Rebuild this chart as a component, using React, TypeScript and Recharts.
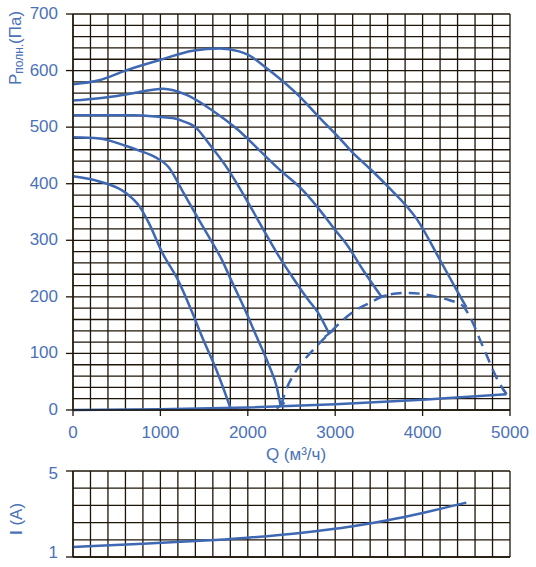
import React from "react";
import { LineChart, Line, XAxis, YAxis, CartesianGrid } from "recharts";

// fan curves, Q (m3/h) vs total pressure (Pa)
const curve1 = [
  { q: 0, p: 576 }, { q: 300, p: 583 }, { q: 600, p: 600 }, { q: 1000, p: 619 },
  { q: 1370, p: 635 }, { q: 1680, p: 639 }, { q: 1900, p: 634 }, { q: 2000, p: 628 },
  { q: 2250, p: 600 }, { q: 2600, p: 553 }, { q: 2800, p: 520 }, { q: 3040, p: 482 },
  { q: 3200, p: 455 }, { q: 3400, p: 426 }, { q: 3590, p: 397 }, { q: 3940, p: 336 },
  { q: 4200, p: 265 }, { q: 4390, p: 212 }, { q: 4500, p: 182 },
];
const curve2 = [
  { q: 0, p: 547 }, { q: 300, p: 551 }, { q: 690, p: 560 }, { q: 1030, p: 568 },
  { q: 1300, p: 557 }, { q: 1590, p: 530 }, { q: 1890, p: 495 }, { q: 2140, p: 458 },
  { q: 2370, p: 424 }, { q: 2600, p: 393 }, { q: 2790, p: 360 }, { q: 3000, p: 318 },
  { q: 3130, p: 293 }, { q: 3320, p: 247 }, { q: 3530, p: 200 },
];
const curve3 = [
  { q: 0, p: 521 }, { q: 700, p: 521 }, { q: 1000, p: 518 }, { q: 1140, p: 516 },
  { q: 1250, p: 511 }, { q: 1400, p: 500 }, { q: 1555, p: 471 }, { q: 1745, p: 432 },
  { q: 1900, p: 394 }, { q: 2050, p: 354 }, { q: 2200, p: 313 }, { q: 2355, p: 272 },
  { q: 2510, p: 235 }, { q: 2680, p: 197 }, { q: 2800, p: 173 }, { q: 2930, p: 135 },
];
const curve4 = [
  { q: 0, p: 482 }, { q: 300, p: 480 }, { q: 600, p: 467 }, { q: 750, p: 459 },
  { q: 940, p: 447 }, { q: 1095, p: 429 }, { q: 1250, p: 388 }, { q: 1400, p: 347 },
  { q: 1555, p: 306 }, { q: 1705, p: 265 }, { q: 1820, p: 226 }, { q: 1960, p: 180 },
  { q: 2100, p: 130 }, { q: 2250, p: 76 }, { q: 2330, p: 41 }, { q: 2375, p: 8 },
];
const curve5 = [
  { q: 0, p: 413 }, { q: 300, p: 404 }, { q: 610, p: 383 }, { q: 760, p: 360 },
  { q: 860, p: 333 }, { q: 1025, p: 277 }, { q: 1200, p: 230 }, { q: 1360, p: 174 },
  { q: 1480, p: 128 }, { q: 1640, p: 71 }, { q: 1800, p: 4 },
];
const sysLine = [
  { q: 0, p: 0 }, { q: 1000, p: 1.5 }, { q: 2000, p: 4.5 }, { q: 3000, p: 10 },
  { q: 4000, p: 18 }, { q: 4960, p: 28 },
];
const boundary = [
  { q: 2380, p: 8 }, { q: 2430, p: 32 }, { q: 2560, p: 71 }, { q: 2710, p: 100 },
  { q: 2820, p: 118 }, { q: 2930, p: 135 }, { q: 3090, p: 159 }, { q: 3240, p: 177 },
  { q: 3390, p: 189 }, { q: 3530, p: 200 }, { q: 3700, p: 206 }, { q: 3850, p: 207 },
  { q: 4000, p: 205 }, { q: 4160, p: 200 }, { q: 4310, p: 194 }, { q: 4460, p: 184 },
  { q: 4540, p: 165 }, { q: 4690, p: 112 }, { q: 4880, p: 47 }, { q: 4960, p: 28 },
];
// current draw, A
const current = [
  { q: 0, i: 1.47 }, { q: 800, i: 1.62 }, { q: 1400, i: 1.74 }, { q: 2000, i: 1.9 },
  { q: 2600, i: 2.12 }, { q: 3200, i: 2.43 }, { q: 3600, i: 2.71 }, { q: 4000, i: 3.05 },
  { q: 4500, i: 3.53 },
];

const qTicks = [
  0, 200, 400, 600, 800, 1000, 1200, 1400, 1600, 1800, 2000, 2200, 2400, 2600,
  2800, 3000, 3200, 3400, 3600, 3800, 4000, 4200, 4400, 4600, 4800, 5000,
];
const pTicks = [
  0, 20, 40, 60, 80, 100, 120, 140, 160, 180, 200, 220, 240, 260, 280, 300, 320,
  340, 360, 380, 400, 420, 440, 460, 480, 500, 520, 540, 560, 580, 600, 620, 640,
  660, 680, 700,
];
const iTicks = [1, 1.8, 2.6, 3.4, 4.2, 5];
const iLabels = [1, 5];

const GRID = "#1e1408";
const BLUE = "#3f68b2";
const TEXT = "#4b71b8";
const FONT = "'Liberation Sans', Arial, sans-serif";

function PTick(props: any) {
  const { x, y, payload } = props;
  if (payload.value % 100 !== 0) return <g />;
  return (
    <g>
      <line x1={x + 8} x2={x + 15} y1={y} y2={y} stroke={GRID} strokeWidth={1.3} />
      <text x={x} y={y + 5} textAnchor="end" fill={TEXT} fontSize={17} fontFamily={FONT}>
        {payload.value}
      </text>
    </g>
  );
}

function QTick(props: any) {
  const { x, y, payload } = props;
  if (payload.value % 1000 !== 0) return <g />;
  return (
    <g>
      <line x1={x} x2={x} y1={y - 6} y2={y} stroke={GRID} strokeWidth={1.3} />
      <text x={x} y={y + 22} textAnchor="middle" fill={TEXT} fontSize={17} fontFamily={FONT}>
        {payload.value}
      </text>
    </g>
  );
}

function ITick(props: any) {
  const { x, y, payload } = props;
  if (!iLabels.includes(payload.value)) return <g />;
  return (
    <g>
      <line x1={x + 8} x2={x + 15} y1={y} y2={y} stroke={GRID} strokeWidth={1.3} />
      <text x={x} y={y + (payload.value === 5 ? 8 : 1)} textAnchor="end" fill={TEXT} fontSize={17} fontFamily={FONT}>
        {payload.value}
      </text>
    </g>
  );
}

const EmptyTick = () => <g />;

// small crossbar drawn at the end of a curve
function endTick(lastIndex: number, angle: number, len: number, half = false) {
  return (props: any) => {
    const { cx, cy, index } = props;
    if (index !== lastIndex || cx == null) return <g key={`t${index}`} />;
    const r = (angle * Math.PI) / 180;
    const dx = (Math.cos(r) * len) / 2;
    const dy = (Math.sin(r) * len) / 2;
    return (
      <line
        key={`t${index}`}
        x1={half ? cx : cx - dx}
        y1={half ? cy : cy - dy}
        x2={cx + dx}
        y2={cy + dy}
        stroke={BLUE}
        strokeWidth={2.4}
      />
    );
  };
}

const lineProps = {
  type: "monotone" as const,
  stroke: BLUE,
  strokeWidth: 2.5,
  activeDot: false,
  isAnimationActive: false,
};

export default function App() {
  return (
    <div style={{ position: "absolute", left: 0, top: 0, width: 536, height: 567, background: "#fff" }}>
      <LineChart width={536} height={460} margin={{ top: 14, right: 26, left: 0, bottom: 0 }}>
        <CartesianGrid stroke={GRID} strokeWidth={1.3} />
        <XAxis
          dataKey="q"
          type="number"
          domain={[0, 5000]}
          ticks={qTicks}
          interval={0}
          height={50}
          tickSize={6}
          tickMargin={0}
          tickLine={false}
          tick={<QTick />}
          axisLine={{ stroke: GRID, strokeWidth: 1.3 }}
        />
        <YAxis
          type="number"
          domain={[0, 700]}
          ticks={pTicks}
          interval={0}
          width={73}
          tickSize={7}
          tickMargin={8}
          tickLine={false}
          tick={<PTick />}
          axisLine={{ stroke: GRID, strokeWidth: 1.3 }}
        />
        <Line {...lineProps} data={sysLine} dataKey="p" dot={endTick(sysLine.length - 1, 235, 14, true)} />
        <Line {...lineProps} data={boundary} dataKey="p" strokeDasharray="11 7" dot={false} />
        <Line {...lineProps} data={curve5} dataKey="p" dot={false} />
        <Line {...lineProps} data={curve4} dataKey="p" dot={endTick(curve4.length - 1, -37, 10)} />
        <Line {...lineProps} data={curve3} dataKey="p" dot={endTick(curve3.length - 1, -36, 11)} />
        <Line {...lineProps} data={curve2} dataKey="p" dot={endTick(curve2.length - 1, -17, 11)} />
        <Line {...lineProps} data={curve1} dataKey="p" dot={false} />
      </LineChart>

      <svg width={536} height={567} style={{ position: "absolute", left: 0, top: 0, pointerEvents: "none" }}>
        <text transform="rotate(-90)" x={-48} y={21} textAnchor="middle" fill={TEXT} fontSize={17} fontFamily={FONT}>
          Р<tspan fontSize={12} dy={2}>полн.</tspan>
          <tspan dy={-2}>(Па)</tspan>
        </text>
        <text x={296} y={460} textAnchor="middle" fill={TEXT} fontSize={17} fontFamily={FONT}>
          Q (м³/ч)
        </text>
        <text transform="rotate(-90)" x={-519} y={22} textAnchor="middle" fill={TEXT} fontSize={17} fontFamily={FONT}>
          <tspan fontWeight="bold">I</tspan> (A)
        </text>
      </svg>

      <div style={{ position: "absolute", left: 0, top: 460 }}>
        <LineChart width={536} height={107} margin={{ top: 11, right: 26, left: 0, bottom: 0 }}>
          <CartesianGrid stroke={GRID} strokeWidth={1.3} />
          <XAxis
            dataKey="q"
            type="number"
            domain={[0, 5000]}
            ticks={qTicks}
            interval={0}
            height={10}
            tickLine={false}
            tick={<EmptyTick />}
            axisLine={{ stroke: GRID, strokeWidth: 1.3 }}
          />
          <YAxis
            type="number"
            domain={[1, 5]}
            ticks={iTicks}
            interval={0}
            width={73}
            tickSize={7}
            tickMargin={8}
            tickLine={false}
            tick={<ITick />}
            axisLine={{ stroke: GRID, strokeWidth: 1.3 }}
          />
          <Line {...lineProps} data={current} dataKey="i" dot={false} />
        </LineChart>
      </div>
    </div>
  );
}
